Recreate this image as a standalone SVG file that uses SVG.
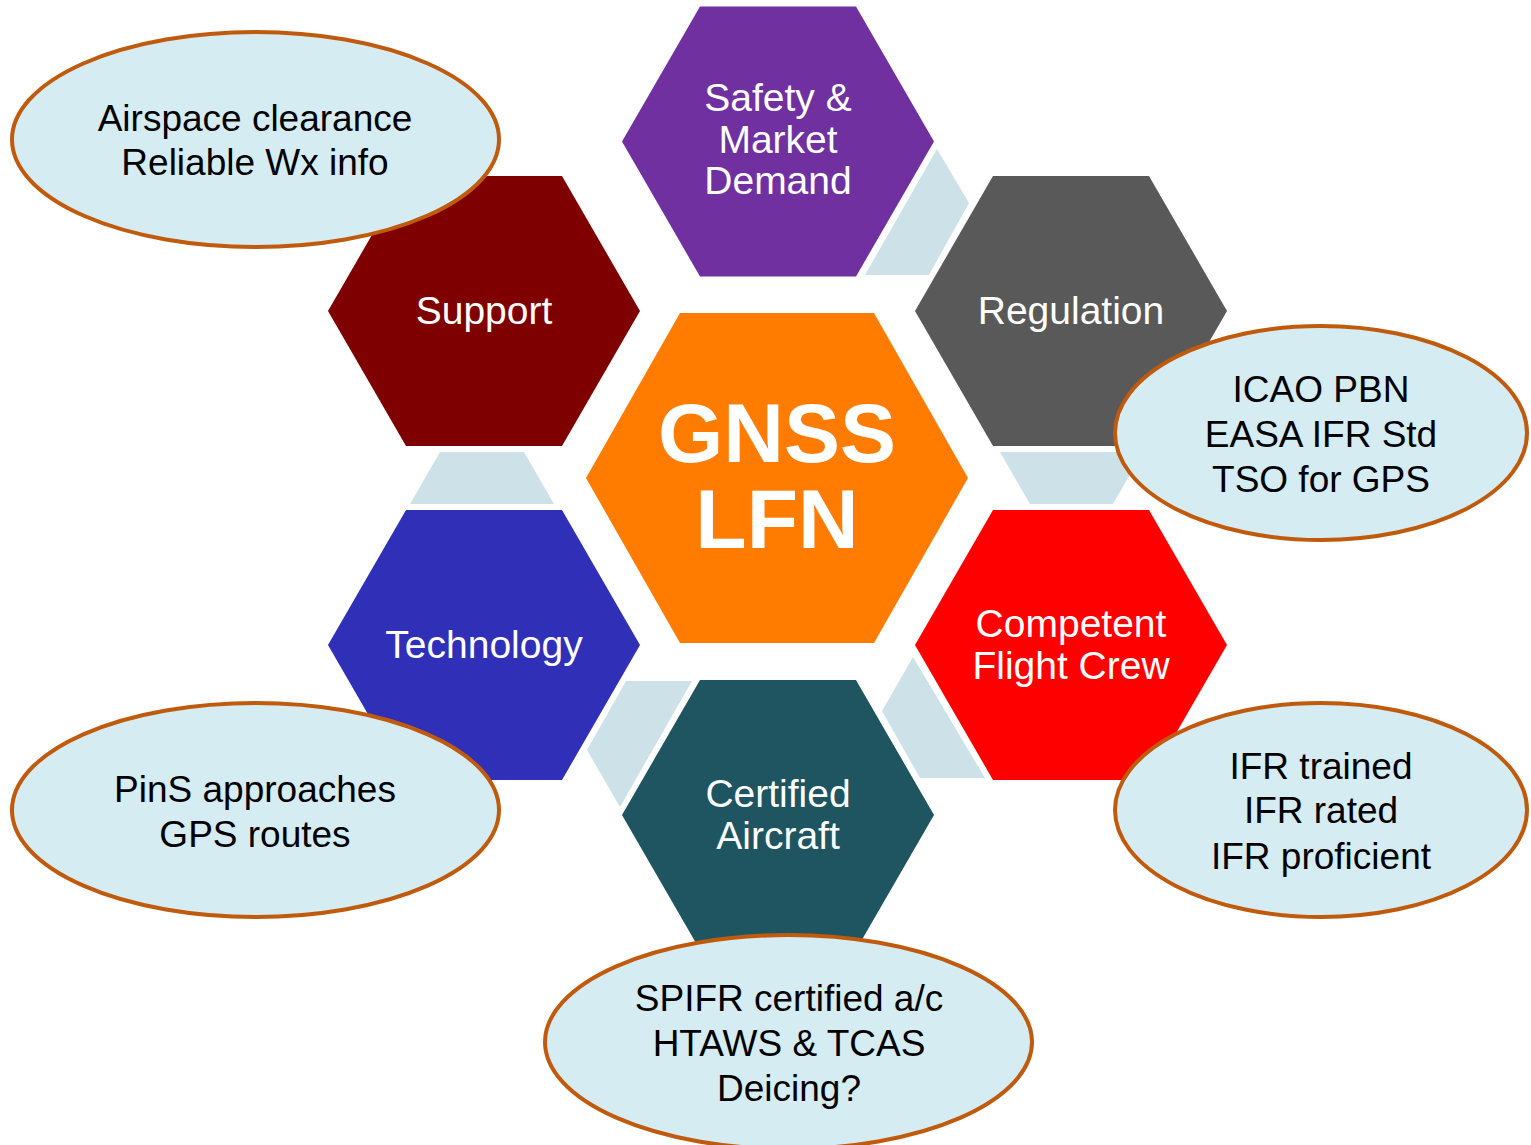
<svg xmlns="http://www.w3.org/2000/svg" xmlns:xlink="http://www.w3.org/1999/xlink" width="1531" height="1145" viewBox="0 0 1531 1145">
<style>
.hexlabel{font-family:"Liberation Sans",Arial,sans-serif;font-size:39px;fill:#ffffff;text-anchor:middle}
.big{font-family:"Liberation Sans",Arial,sans-serif;font-size:84px;font-weight:bold;fill:#ffffff;text-anchor:middle}
.note{font-family:"Liberation Sans",Arial,sans-serif;font-size:37px;fill:#000000;text-anchor:middle}
.bubble{fill:#d6ecf3;stroke:#c05a0d;stroke-width:4}
.conn{fill:#cde1e8}
</style>
<defs>
<polygon id="hex" points="-156,0 -78,-135 78,-135 156,0 78,135 -78,135"/>
</defs>
<rect width="1531" height="1145" fill="#ffffff"/>
<g id="connectors">
<polygon class="conn" points="937,149 969,203 929,275 865,275"/>
<polygon class="conn" points="1000,452 1143,452 1113,504 1030,504"/>
<polygon class="conn" points="440,452 524,452 554,504 410,504"/>
<polygon class="conn" points="626,681 692,681 620,807 587,750"/>
<polygon class="conn" points="913,657 985,778 920,778 882,711"/>
</g>
<g id="safety">
<use xlink:href="#hex" href="#hex" x="778" y="141.5" fill="#7030a0"/>
<text class="hexlabel" x="778" y="111">Safety &amp;</text>
<text class="hexlabel" x="778" y="153">Market</text>
<text class="hexlabel" x="778" y="194">Demand</text>
</g>
<g id="support">
<use xlink:href="#hex" href="#hex" x="484" y="311" fill="#7f0000"/>
<text class="hexlabel" x="484" y="324">Support</text>
</g>
<g id="regulation">
<use xlink:href="#hex" href="#hex" x="1071" y="311" fill="#595959"/>
<text class="hexlabel" x="1071" y="324">Regulation</text>
</g>
<g id="technology">
<use xlink:href="#hex" href="#hex" x="484" y="645" fill="#2f2fb8"/>
<text class="hexlabel" x="484" y="658">Technology</text>
</g>
<g id="competent">
<use xlink:href="#hex" href="#hex" x="1071" y="645" fill="#ff0000"/>
<text class="hexlabel" x="1071" y="637">Competent</text>
<text class="hexlabel" x="1071" y="679">Flight Crew</text>
</g>
<g id="certified">
<use xlink:href="#hex" href="#hex" x="778" y="815" fill="#1e5560"/>
<text class="hexlabel" x="778" y="807">Certified</text>
<text class="hexlabel" x="778" y="849">Aircraft</text>
</g>
<g id="gnss">
<polygon points="586,478 680,313 874,313 968,478 874,643 680,643" fill="#ff7c00"/>
<text class="big" x="777" y="462">GNSS</text>
<text class="big" x="777" y="548">LFN</text>
</g>
<g id="note-support">
<ellipse class="bubble" cx="255.5" cy="139.5" rx="243.5" ry="107.5"/>
<text class="note" x="255" y="131">Airspace clearance</text>
<text class="note" x="255" y="175">Reliable Wx info</text>
</g>
<g id="note-technology">
<ellipse class="bubble" cx="255.5" cy="810" rx="243.5" ry="107"/>
<text class="note" x="255" y="802">PinS approaches</text>
<text class="note" x="255" y="847">GPS routes</text>
</g>
<g id="note-certified">
<ellipse class="bubble" cx="788.5" cy="1042" rx="243.5" ry="107"/>
<text class="note" x="789" y="1011">SPIFR certified a/c</text>
<text class="note" x="789" y="1056">HTAWS &amp; TCAS</text>
<text class="note" x="789" y="1101">Deicing?</text>
</g>
<g id="note-regulation">
<ellipse class="bubble" cx="1321" cy="433" rx="206" ry="107"/>
<text class="note" x="1321" y="402">ICAO PBN</text>
<text class="note" x="1321" y="447">EASA IFR Std</text>
<text class="note" x="1321" y="492">TSO for GPS</text>
</g>
<g id="note-competent">
<ellipse class="bubble" cx="1321" cy="810" rx="206" ry="107"/>
<text class="note" x="1321" y="779">IFR trained</text>
<text class="note" x="1321" y="823">IFR rated</text>
<text class="note" x="1321" y="869">IFR proficient</text>
</g>
</svg>
